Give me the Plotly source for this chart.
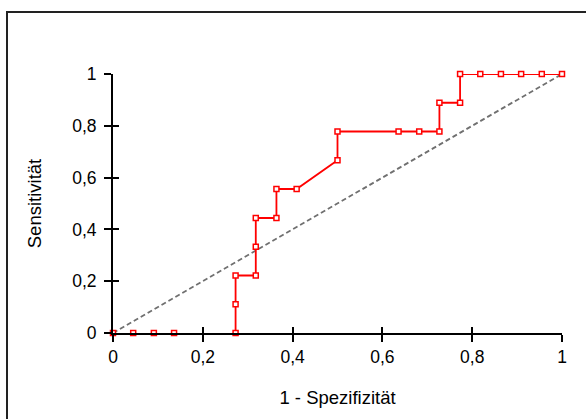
import plotly.graph_objects as go

# ROC curve points (1 - Spezifität, Sensitivität)
fpr = [0.0, 0.045, 0.091, 0.136, 0.273, 0.273, 0.273, 0.318, 0.318, 0.318,
       0.364, 0.364, 0.409, 0.5, 0.5, 0.636, 0.682, 0.727, 0.727, 0.773,
       0.773, 0.818, 0.864, 0.909, 0.955, 1.0]
tpr = [0.0, 0.0, 0.0, 0.0, 0.0, 0.111, 0.222, 0.222, 0.333, 0.444,
       0.444, 0.556, 0.556, 0.667, 0.778, 0.778, 0.778, 0.778, 0.889, 0.889,
       1.0, 1.0, 1.0, 1.0, 1.0, 1.0]
ref_x = [0, 1]
ref_y = [0, 1]
tick_vals = [0, 0.2, 0.4, 0.6, 0.8, 1]

# the stretch along y = 0 lies under the x axis; start the visible line at the last zero point
start = max(i for i, v in enumerate(tpr) if v == 0)

W, H = 586, 419
L, R, T, B = 113, 24, 74, 86
pw, ph = W - L - R, H - T - B

FONT = "Liberation Sans, Arial, sans-serif"
FS = 17.5
FT = 18.5

fig = go.Figure()
fig.add_trace(go.Scatter(x=ref_x, y=ref_y, mode="lines",
                         line=dict(color="#707070", width=1.8, dash="5px,3px"),
                         hoverinfo="skip", showlegend=False))
fig.add_trace(go.Scatter(x=fpr[start:], y=tpr[start:], mode="lines",
                         line=dict(color="#ff0000", width=1.8),
                         cliponaxis=True, showlegend=False, hoverinfo="skip"))
fig.add_trace(go.Scatter(x=fpr, y=tpr, mode="markers",
                         marker=dict(symbol="square", size=5, color="white",
                                     line=dict(color="#ff0000", width=1.5)),
                         cliponaxis=False, showlegend=False))
# invisible trace for overlay axes (inner tick halves)
fig.add_trace(go.Scatter(x=ref_x, y=ref_y, xaxis="x2", yaxis="y2", mode="none",
                         showlegend=False, hoverinfo="skip"))

axis_common = dict(range=[0, 1], tickvals=tick_vals, showgrid=False, zeroline=False,
                   showline=True, linecolor="black", linewidth=2,
                   ticks="outside", ticklen=7, tickwidth=2, tickcolor="black",
                   tickfont=dict(family=FONT, size=FS, color="black"),
                   layer="above traces")

fig.update_layout(
    width=W, height=H,
    margin=dict(l=L, r=R, t=T, b=B),
    paper_bgcolor="white", plot_bgcolor="white",
    separators=",.",
    font=dict(family=FONT, size=FS, color="black"),
    xaxis=dict(**axis_common,
               title=dict(text="1 - Spezifizität", standoff=25,
                          font=dict(family=FONT, size=FT))),
    yaxis=dict(**axis_common, ticklabelstandoff=4,
               title=dict(text="Sensitivität", standoff=26,
                          font=dict(family=FONT, size=FT))),
    xaxis2=dict(range=[0, 1], tickvals=tick_vals, overlaying="x", side="bottom",
                showgrid=False, zeroline=False, showline=False,
                ticks="inside", ticklen=6, tickwidth=2, tickcolor="black",
                showticklabels=False),
    yaxis2=dict(range=[0, 1], tickvals=tick_vals, overlaying="y", side="left",
                showgrid=False, zeroline=False, showline=False,
                ticks="inside", ticklen=6, tickwidth=2, tickcolor="black",
                showticklabels=False),
    shapes=[dict(type="rect", xref="paper", yref="paper",
                 x0=(7 - L) / pw, x1=(W + 20 - L) / pw,
                 y0=(T + ph - (H + 20)) / ph, y1=(T + ph - 12) / ph,
                 line=dict(color="#222222", width=2), fillcolor="rgba(0,0,0,0)",
                 layer="below")],
)

fig.write_html("out.html")
